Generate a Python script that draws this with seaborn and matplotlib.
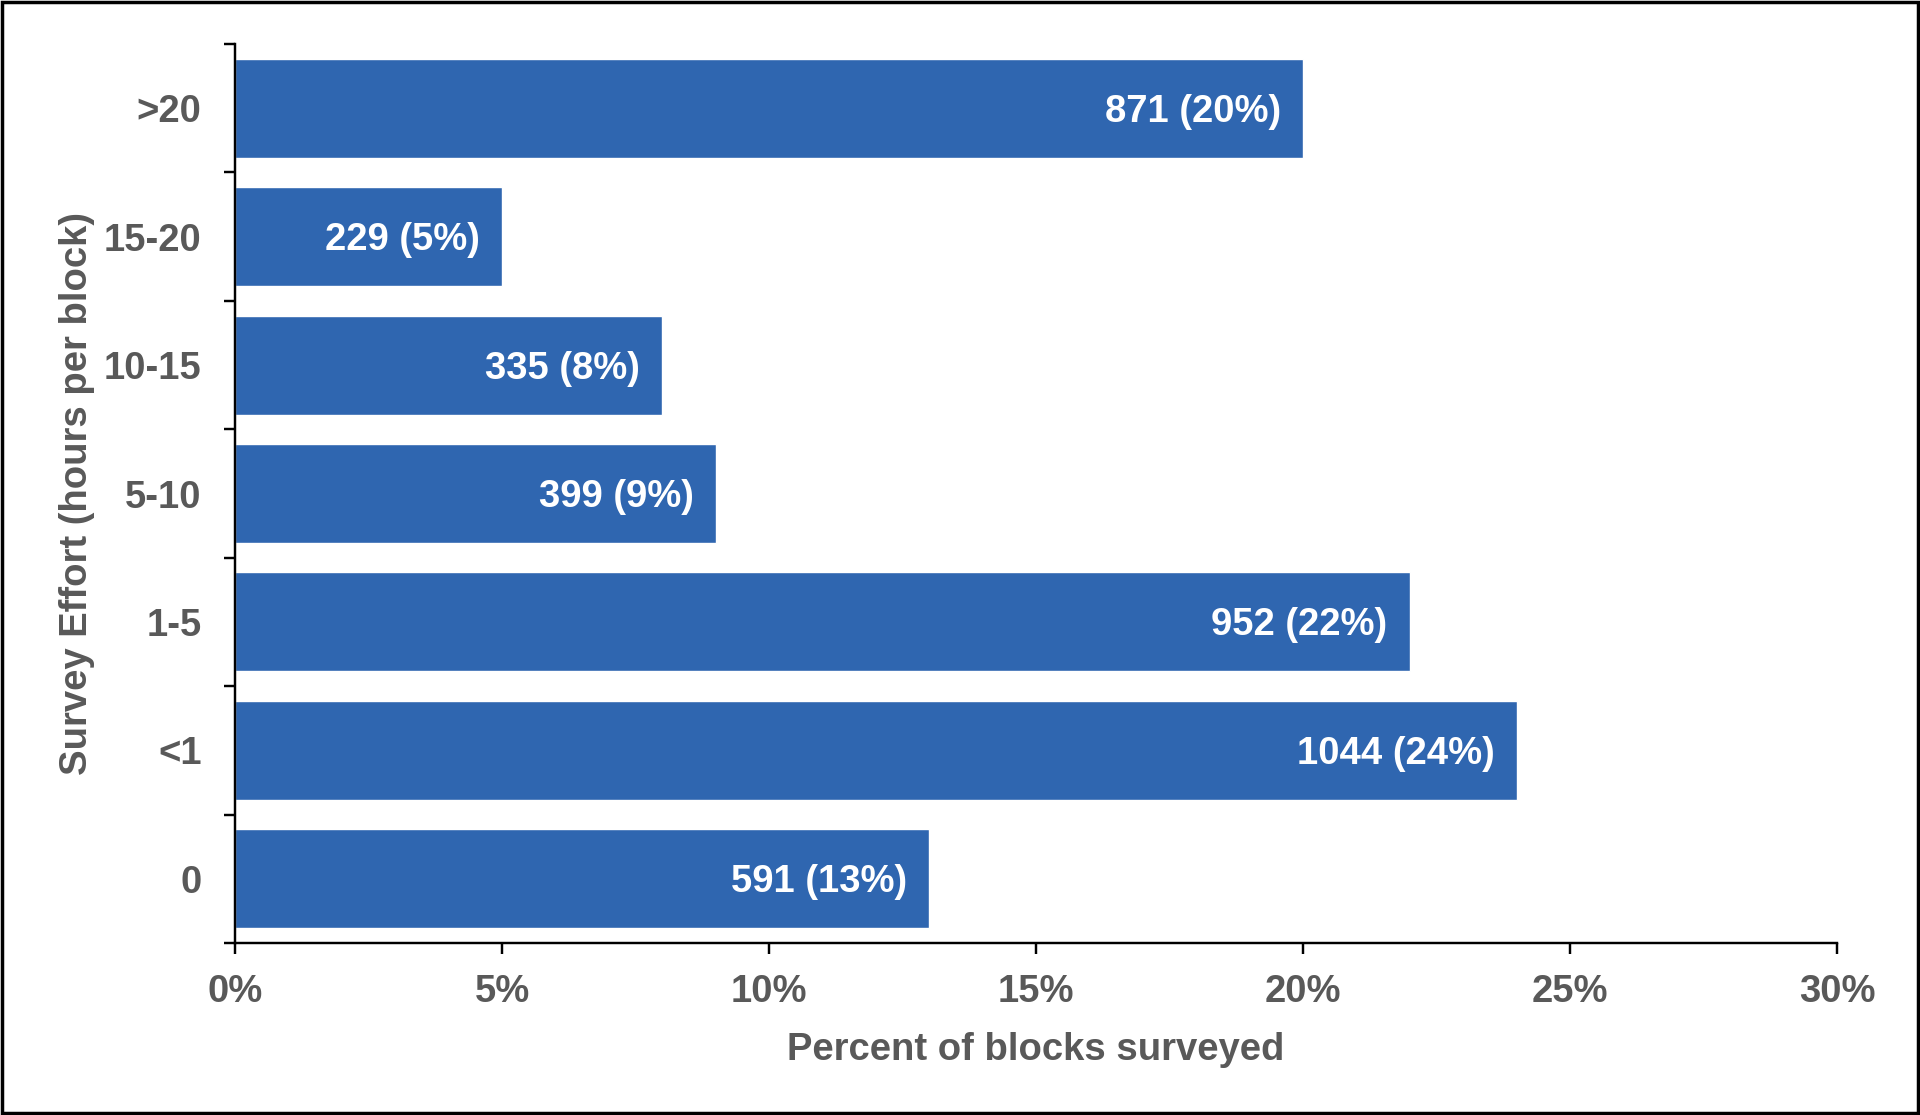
import matplotlib
matplotlib.use("Agg")
import matplotlib.pyplot as plt
from matplotlib.patches import Rectangle
from matplotlib.ticker import FuncFormatter, FixedLocator
import numpy as np
import pandas as pd
import seaborn as sns

# data (top to bottom)
categories = [">20", "15-20", "10-15", "5-10", "1-5", "<1", "0"]
percents = [20, 5, 8, 9, 22, 24, 13]
counts = [871, 229, 335, 399, 952, 1044, 591]

BAR_COLOR = "#2F66B0"
TEXT_GRAY = "#595959"
FS = 27.5

sns.set_style("white")
plt.rcParams["font.family"] = ["Liberation Sans", "DejaVu Sans"]
plt.rcParams["font.weight"] = "bold"

df = pd.DataFrame({"effort": categories, "pct": percents, "n": counts})

fig = plt.figure(figsize=(19.2, 11.15), dpi=100)
ax = fig.add_axes([235 / 1920, 1 - 943 / 1115, (1837 - 235) / 1920, (943 - 44) / 1115])

sns.barplot(data=df, x="pct", y="effort", orient="h", order=categories,
            color=BAR_COLOR, saturation=1, width=0.77, ax=ax)

# labels inside the bars
for i, (p, n) in enumerate(zip(percents, counts)):
    ax.annotate(f"{n} ({p}%)", xy=(p, i), xytext=(-16, -2.5), textcoords="offset points",
                ha="right", va="center", color="white", fontsize=FS, fontweight="bold")

ax.set_xlim(0, 30)
ax.set_ylim(len(categories) - 0.5, -0.5)
ax.set_xticks(np.arange(0, 31, 5))
ax.xaxis.set_major_formatter(FuncFormatter(lambda v, pos: f"{v:.0f}%"))

# y: ticks marks on category boundaries, labels at centres without marks
ax.yaxis.set_minor_locator(FixedLocator(np.arange(-0.5, len(categories), 1)))
ax.tick_params(axis="y", which="major", length=0, pad=24, labelsize=FS, labelcolor=TEXT_GRAY)
ax.tick_params(axis="y", which="minor", length=8, width=1.75, direction="out", color="black", left=True)
ax.tick_params(axis="x", which="major", length=8, width=1.75, direction="out", color="black",
               pad=14, labelsize=FS, labelcolor=TEXT_GRAY, bottom=True)

for lab in ax.get_xticklabels() + ax.get_yticklabels():
    lab.set_fontweight("bold")

sns.despine(ax=ax)
for s in ["left", "bottom"]:
    ax.spines[s].set_linewidth(1.75)
    ax.spines[s].set_color("black")

ax.set_xlabel("Percent of blocks surveyed", fontsize=FS, fontweight="bold", color=TEXT_GRAY)
ax.set_ylabel("Survey Effort (hours per block)", fontsize=FS, fontweight="bold", color=TEXT_GRAY)
ax.xaxis.set_label_coords(0.5, (943 - 1050) / (943 - 44))
ax.xaxis.label.set_va("center")
ax.yaxis.set_label_coords((77 - 235) / (1837 - 235), 0.5)
ax.yaxis.label.set_va("center")
ax.yaxis.label.set_ha("center")

# outer frame of the picture
fig.patches.append(Rectangle((0.001, 0.0015), 0.998, 0.997, transform=fig.transFigure,
                             fill=False, edgecolor="black", linewidth=2.5))

fig.savefig("out.png", dpi=100, facecolor="white")
